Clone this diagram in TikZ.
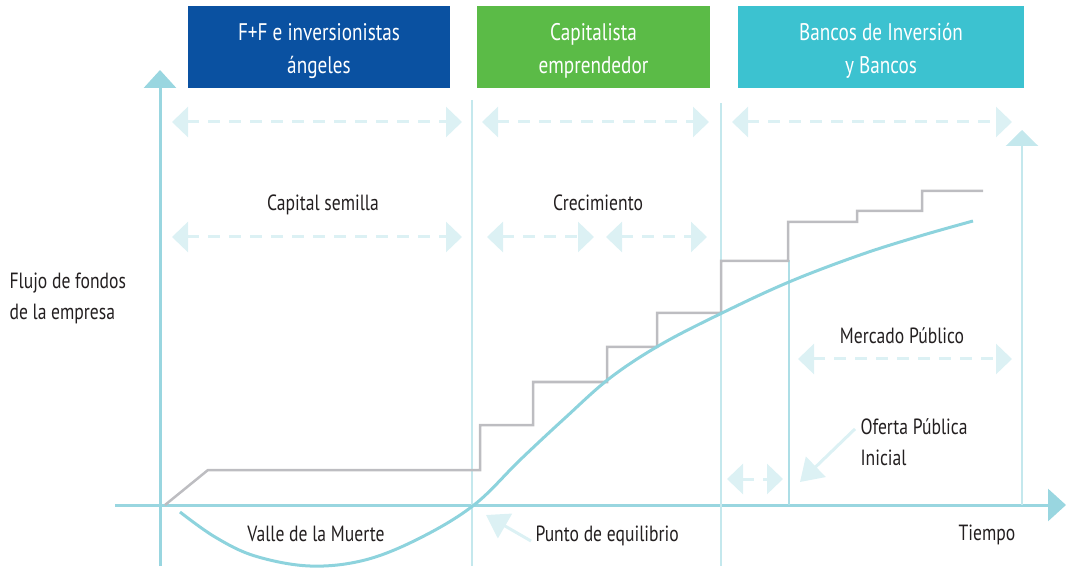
\documentclass[tikz,border=0pt]{standalone}
\usepackage{fontspec}
\setmainfont[FakeStretch=0.8]{PT Sans}
\usepackage{tikz}
\usetikzlibrary{positioning,arrows.meta,calc}
\definecolor{hdrblue}{HTML}{0A51A1}
\definecolor{hdrgreen}{HTML}{5BBB47}
\definecolor{hdrcyan}{HTML}{3CC2D0}
\definecolor{axiscol}{HTML}{99D6E0}
\definecolor{curvecol}{HTML}{8DD3DD}
\definecolor{divcol}{HTML}{C4E8ED}
\definecolor{spancol}{HTML}{DCF1F4}
\definecolor{stepgray}{HTML}{BDBDC1}
\definecolor{ink}{HTML}{231F20}
\newcommand{\lblsize}{\fontsize{22}{31}\selectfont}
\tikzset{
  hdr/.style     = {rectangle, fill=#1, minimum height=82pt, inner sep=0pt},
  hdrtext/.style = {text=white, align=center, inner sep=0pt, yshift=-4pt,
                    font=\fontsize{24}{33}\selectfont},
  axis/.style    = {draw=axiscol, line width=3pt, -{Triangle[length=18pt, width=32pt]}},
  divider/.style = {draw=divcol, line width=2.5pt},
  span/.style    = {draw=spancol, line width=3pt, dash pattern=on 12pt off 9pt,
                    {Triangle[length=16pt, width=30pt]}-{Triangle[length=16pt, width=30pt]}},
  pointer/.style = {draw=spancol, line width=3pt, -{Triangle[length=22pt, width=28pt]}},
  stair/.style   = {draw=stepgray, line width=2.5pt},
  curve/.style   = {draw=curvecol, line width=3pt},
  lbl/.style     = {text=ink, align=left},
}

\begin{document}
\begin{tikzpicture}[x=1pt, y=-1pt, font=\lblsize]
  \useasboundingbox (0,0) rectangle (1066,569);

  %% ---- the three funding stages on top ----------------------------------
  \node[hdr=hdrblue,  minimum width=262pt,
        label={[hdrtext, name=fftext]center:{F+F e inversionistas\\ángeles}}] (ff) at (319,47) {};
  \node[hdr=hdrgreen, minimum width=233pt,
        label={[hdrtext, name=capittext]center:{Capitalista\\emprendedor}}] (capit) at (593.5,47) {};
  \node[hdr=hdrcyan,  minimum width=286pt,
        label={[hdrtext, name=bancotext]center:{Bancos de Inversión\\y Bancos}}] (banco) at (881,47) {};

  %% ---- axes and stage dividers ------------------------------------------
  \draw[axis] (160,566) -- (160,70);
  \draw[axis] (115,505) -- (1066,505);
  \draw[divider] (472,100) -- (472,566);
  \draw[divider] (721,103) -- (721,566);
  \draw[divider, draw=axiscol!80] (789,260) -- (789,505);
  \draw[divider, -{Triangle[length=16pt, width=32pt]}] (1022,505) -- (1022,130);

  % dashed spans of each phase
  \foreach \a/\b/\y in {172/462/122, 482/709/122, 732/1012/122,
                        172/462/237, 487/594/237, 606/707/237,
                        798/1012/359, 727/783/479} {
    \draw[span] (\a,\y) -- (\b,\y);
  }

  %% ---- funding steps and cash flow --------------------------------------
  \draw[stair] (165,505) -- (208,470) -| (480,425) -| (533,382) -| (607,347) -| (657,313)
    -| (721,261) -| (788,222) -| (857,211) -| (922,191) -- (983,191);
  \draw[curve] plot[smooth, tension=0.6] coordinates {(180,512) (215,537) (255,556) (310,566)
    (365,560) (420,538) (474,505) (520,460) (565,418) (610,378) (660,345) (720,314)
    (789,282) (860,255) (920,236) (973,221)};

  %% ---- labels -----------------------------------------------------------
  \node[lbl] (semilla) at (323,205) {Capital semilla};
  \node[lbl] (crecim)  at (598,203) {Crecimiento};
  \node[lbl, anchor=west] (flujo) at (6,298) {Flujo de fondos\\de la empresa};
  \node[lbl] (mercado) at (902,336) {Mercado Público};
  \node[lbl, anchor=west] (ofpi) at (857,442) {Oferta Pública\\Inicial};
  \node[lbl] (valle)   at (316,534) {Valle de la Muerte};
  \node[lbl, anchor=west] (punto) at (532,536) {Punto de equilibrio};
  \node[lbl] (tiempo)  at (987,535) {Tiempo};

  % pointers to the break-even point and the IPO
  \coordinate (equil) at (486,515);
  \coordinate (ipo)   at (800,482);
  \draw[pointer] ($(punto.west)+(-1,5)$) -- (equil);
  \draw[pointer] ($(ofpi.north west)+(-2,14)$) -- (ipo);
\end{tikzpicture}
\end{document}
